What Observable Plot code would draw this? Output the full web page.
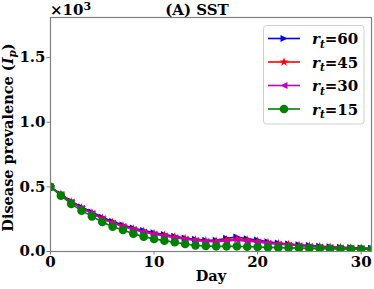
<!DOCTYPE html>
<html>
<head>
<meta charset="utf-8">
<script src="https://cdn.jsdelivr.net/npm/d3@7"></script>
<script src="https://cdn.jsdelivr.net/npm/@observablehq/plot@0.6"></script>
<style>
html,body{margin:0;padding:0;background:#fff;}
#chart{position:relative;width:374px;height:289px;}
</style>
</head>
<body>
<div id="chart"></div>
<script>
const days = [0,1,2,3,4,5,6,7,8,9,10,11,12,13,14,15,16,17,18,19,20,21,22,23,24,25,26,27,28,29,30,31];
const rt60 = [0.500,0.445,0.390,0.345,0.305,0.265,0.232,0.205,0.182,0.162,0.145,0.132,0.118,0.105,0.095,0.087,0.087,0.102,0.112,0.098,0.088,0.075,0.066,0.058,0.052,0.046,0.041,0.037,0.033,0.030,0.027,0.025];
const rt45 = [0.500,0.442,0.385,0.338,0.298,0.258,0.225,0.198,0.175,0.155,0.138,0.125,0.112,0.100,0.090,0.082,0.080,0.090,0.097,0.088,0.080,0.068,0.060,0.053,0.047,0.042,0.037,0.033,0.030,0.027,0.025,0.023];
const rt30 = [0.500,0.440,0.382,0.334,0.293,0.253,0.220,0.193,0.170,0.150,0.133,0.120,0.107,0.095,0.085,0.077,0.075,0.082,0.088,0.080,0.073,0.063,0.056,0.050,0.044,0.039,0.035,0.031,0.028,0.025,0.023,0.021];
const rt15 = [0.500,0.432,0.368,0.316,0.272,0.228,0.192,0.166,0.138,0.115,0.097,0.084,0.071,0.058,0.047,0.043,0.040,0.040,0.040,0.037,0.035,0.032,0.030,0.028,0.026,0.024,0.022,0.020,0.019,0.018,0.017,0.016];
const seriesNames = ["60","45","30","15"];
const seriesColors = ["#0000ff","#ff0000","#bf00bf","#008000"];
const xTicks = [0,10,20,30];
const yTicks = [0,0.5,1.0,1.5];
const titleText = "(A) SST";
const xLabel = "Day";

const triRight = {draw(ctx, size){const a=Math.sqrt(size/Math.PI); ctx.moveTo(a,0); ctx.lineTo(-a,-a); ctx.lineTo(-a,a); ctx.closePath();}};
const triLeft = {draw(ctx, size){const a=Math.sqrt(size/Math.PI); ctx.moveTo(-a,0); ctx.lineTo(a,-a); ctx.lineTo(a,a); ctx.closePath();}};
const symbols = [triRight, d3.symbolStar, triLeft, d3.symbolCircle];
const radii = [3.5, 2.9, 3.5, 4.3];
const allSeries = [rt60, rt45, rt30, rt15];

const marks = [];
allSeries.forEach((vals, i) => {
  const rows = days.map((d, j) => ({day: d, v: vals[j]}));
  marks.push(Plot.line(rows, {x: "day", y: "v", stroke: seriesColors[i], strokeWidth: 1.6, clip: true}));
  marks.push(Plot.dot(rows, {x: "day", y: "v", symbol: symbols[i], r: radii[i], fill: seriesColors[i], stroke: "none", clip: true}));
});

const svg = Plot.plot({
  width: 374, height: 289,
  marginLeft: 50, marginRight: 3, marginTop: 17, marginBottom: 38,
  x: {domain: [0, 31], label: null},
  y: {domain: [0, 1.81], label: null},
  style: {fontFamily: "DejaVu Serif", fontSize: "15px", fontWeight: "bold", color: "black", background: "white"},
  marks: [
    Plot.axisX({ticks: xTicks, tickSize: 3.5, tickPadding: 1.5, stroke: "#808080", label: null, tickFormat: d => String(d)}),
    Plot.axisY({ticks: yTicks, tickSize: 3.5, tickPadding: 1.5, stroke: "#808080", label: null, tickFormat: d => d.toFixed(1)}),
    ...marks,
    Plot.frame({stroke: "#808080", strokeWidth: 1.2})
  ]
});

const s = d3.select(svg);
s.selectAll("g[aria-label='x-axis tick label'], g[aria-label='y-axis tick label']").attr("stroke", null).attr("fill", "black");

const fontAttrs = sel => sel.attr("font-family", "DejaVu Serif").attr("font-weight", "bold").attr("fill", "black").attr("text-anchor", "start");

// title
fontAttrs(s.append("text").attr("x", 197).attr("y", 15).attr("font-size", 15).text(titleText)).attr("text-anchor", "middle");
// x10^3 offset text
const off = fontAttrs(s.append("text").attr("x", 50).attr("y", 15).attr("font-size", 15));
off.append("tspan").text("×10");
off.append("tspan").attr("dy", -5).attr("font-size", 11).text("3");
// x label
fontAttrs(s.append("text").attr("x", 211).attr("y", 281).attr("font-size", 14.5).text(xLabel)).attr("text-anchor", "middle");
// y label
const yl = fontAttrs(s.append("text").attr("transform", "translate(13,137.5) rotate(-90)").attr("font-size", 14.5)).attr("text-anchor", "middle");
yl.append("tspan").text("Disease prevalence (");
yl.append("tspan").attr("font-style", "italic").text("I");
yl.append("tspan").attr("font-style", "italic").attr("font-size", 10.5).attr("dy", 3).text("p");
yl.append("tspan").attr("dy", -3).text(")");

// legend
const lg = s.append("g");
lg.append("rect").attr("x", 263.5).attr("y", 25.5).attr("width", 100.5).attr("height", 98.5).attr("rx", 3)
  .attr("fill", "white").attr("fill-opacity", 0.8).attr("stroke", "#d0d0d0");
const rowY = [38.5, 62, 85.5, 109];
seriesNames.forEach((name, i) => {
  const y = rowY[i];
  lg.append("line").attr("x1", 268).attr("x2", 300).attr("y1", y).attr("y2", y).attr("stroke", seriesColors[i]).attr("stroke-width", 1.6);
  lg.append("path").attr("transform", `translate(284,${y})`).attr("d", d3.symbol(symbols[i], Math.PI * radii[i] * radii[i])()).attr("fill", seriesColors[i]);
  const t = fontAttrs(lg.append("text").attr("x", 312).attr("y", y + 5.5).attr("font-size", 15));
  t.append("tspan").attr("font-style", "italic").text("r");
  t.append("tspan").attr("font-style", "italic").attr("font-size", 10.5).attr("dy", 3.5).text("t");
  t.append("tspan").attr("dy", -3.5).text("=" + name);
});

document.getElementById("chart").appendChild(svg);
</script>
</body>
</html>
